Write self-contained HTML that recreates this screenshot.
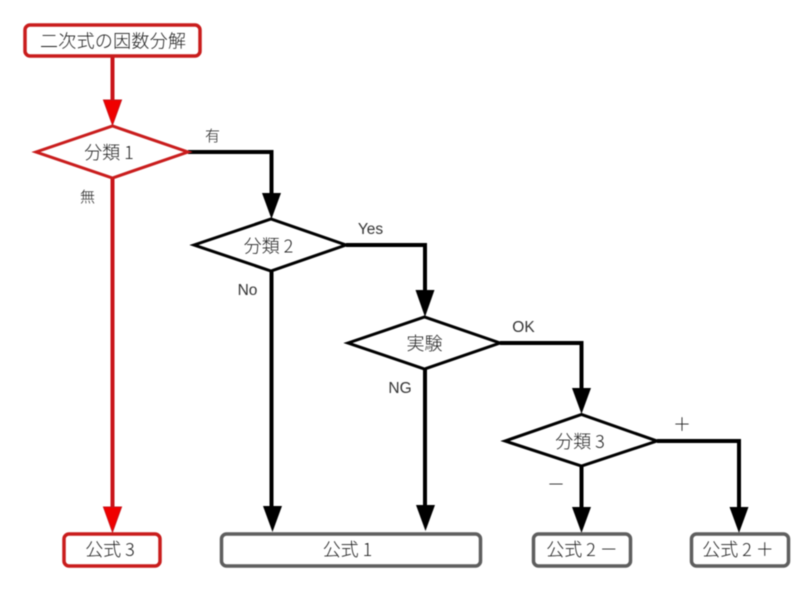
<!DOCTYPE html>
<html lang="ja">
<head>
<meta charset="utf-8">
<style>
html,body{margin:0;padding:0;background:#fff;width:800px;height:598px;overflow:hidden}
svg{display:block;filter:blur(.45px)}
text{font-family:"Noto Sans CJK JP","Liberation Sans",sans-serif;font-weight:300;fill:#1c1c1c;text-anchor:middle}
.m{font-size:18px}
.s{font-size:15px}
.l{font-size:15.500px;font-family:"Liberation Sans","Noto Sans CJK JP",sans-serif;font-weight:400;fill:#333}
</style>
</head>
<body>
<svg width="800" height="598" viewBox="0 0 800 598" xmlns="http://www.w3.org/2000/svg">
<!-- black connectors -->
<g fill="none" stroke="#000" stroke-width="4">
<path d="M188 152H271.500V195"/>
<path d="M346 245H425V292"/>
<path d="M500 343H581.500V388"/>
<path d="M657 441H739V510"/>
<path d="M581.500 466V510"/>
<path d="M271.500 271V510"/>
<path d="M425 369V510"/>
</g>
<g fill="#000">
<path d="M262 193H281L271.500 219Z"/>
<path d="M415.500 290H434.500L425 317Z"/>
<path d="M572 388H591L581.500 414Z"/>
<path d="M729.500 507H748.500L739 533Z"/>
<path d="M572 507H591L581.500 533Z"/>
<path d="M263 506H282L272.500 532Z"/>
<path d="M416 505H435L425.500 531Z"/>
</g>
<!-- red connectors -->
<g fill="none" stroke="#c9141a" stroke-width="4">
<path d="M112.500 57V102"/>
<path d="M112.500 178V510"/>
</g>
<g fill="#f00000" stroke="#c9141a" stroke-width="1">
<path d="M103.500 100H121.500L112.500 125Z"/>
<path d="M103.500 507H121.500L112.500 532Z"/>
</g>
<!-- decisions -->
<path d="M36 152L112.500 126L188 152L112.500 178Z" fill="#fff" stroke="#c91c1c" stroke-width="3"/>
<path d="M194 245L271 219L346 245L271 271Z" fill="#fff" stroke="#000" stroke-width="3"/>
<path d="M348 343L424.500 317L500 343L424.500 369Z" fill="#fff" stroke="#000" stroke-width="3"/>
<path d="M505 441L581.500 414.500L657 441L581.500 466Z" fill="#fff" stroke="#000" stroke-width="3"/>
<!-- terminals -->
<rect x="25" y="25" width="175" height="31" rx="5" fill="#fff" stroke="#c91c1c" stroke-width="3.500"/>
<rect x="64" y="534" width="96" height="32" rx="5" fill="#fff" stroke="#c91c1c" stroke-width="3.500"/>
<rect x="221.500" y="534" width="259" height="32" rx="5" fill="#fff" stroke="#5e5e5e" stroke-width="3.500"/>
<rect x="533.500" y="534" width="97" height="32" rx="5" fill="#fff" stroke="#5e5e5e" stroke-width="3.500"/>
<rect x="691.500" y="534" width="97" height="32" rx="5" fill="#fff" stroke="#5e5e5e" stroke-width="3.500"/>
<!-- labels -->
<text class="m" x="113" y="47.500" textLength="146">二次式の因数分解</text>
<text class="m" x="109" y="159">分類 1</text>
<text class="m" x="268.500" y="252.500">分類 2</text>
<text class="m" x="424.500" y="350">実験</text>
<text class="m" x="580" y="448">分類 3</text>
<text class="m" x="110" y="556">公式 3</text>
<text class="m" x="347.500" y="556">公式 1</text>
<text class="m" x="582" y="556">公式 2 －</text>
<text class="m" x="738" y="556">公式 2 ＋</text>
<text class="s" x="212.500" y="141">有</text>
<text class="s" x="87.500" y="202">無</text>
<text class="l" x="370.500" y="234">Yes</text>
<text class="l" x="247.500" y="295">No</text>
<text class="l" x="523.500" y="332">OK</text>
<text class="l" x="400" y="393">NG</text>
<text class="m" x="682" y="431">＋</text>
<text class="m" x="556" y="491">－</text>
</svg>
</body>
</html>
